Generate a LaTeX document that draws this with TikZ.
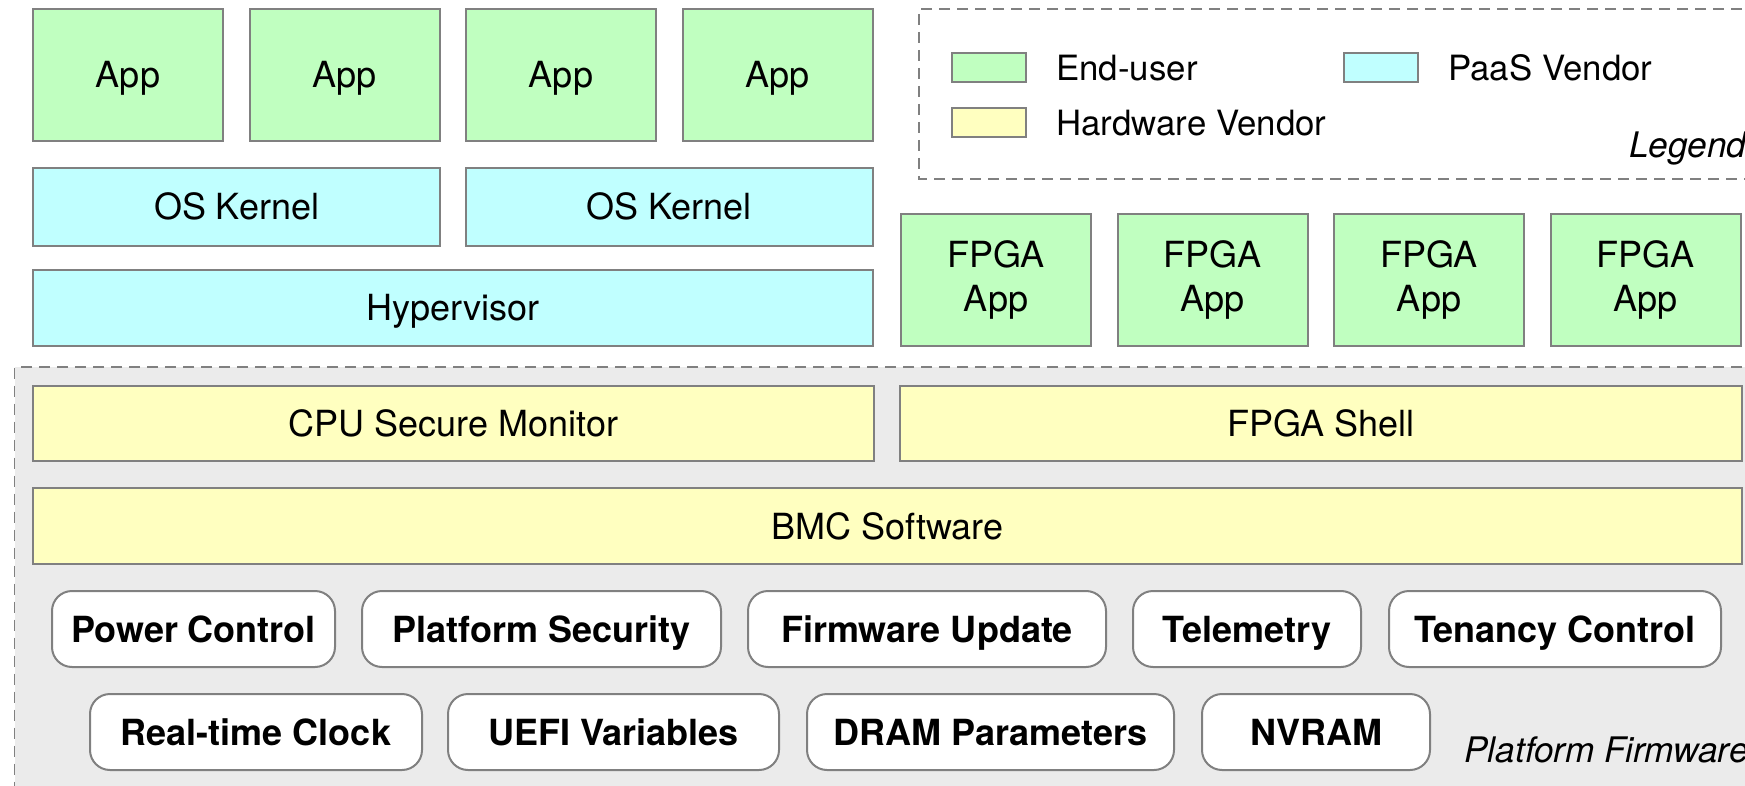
\documentclass[tikz,border=0pt]{standalone}
\usepackage{fontspec}
\setmainfont{TeX Gyre Heros}
\definecolor{enduser}{RGB}{192,255,192}
\definecolor{paas}{RGB}{192,255,255}
\definecolor{hwv}{RGB}{255,255,192}
\definecolor{edge}{RGB}{128,128,128}
\definecolor{pfbg}{RGB}{235,235,235}
\tikzset{
  box/.style={draw=edge, line width=1pt, inner sep=0pt, font=\fontsize{18}{21.6}\selectfont, align=center, text height=13pt, text depth=0pt},
  twoline/.style={text height=, text depth=},
  eu/.style={box, fill=enduser},
  pv/.style={box, fill=paas},
  hv/.style={box, fill=hwv},
  pill/.style={box, fill=white, rounded corners=10pt, font=\fontsize{18}{21.6}\selectfont\bfseries},
  dashbox/.style={draw=edge, line width=0.8pt, dash pattern=on 5.5pt off 3.5pt},
  legtext/.style={anchor=west, inner sep=0pt, font=\fontsize{17.4}{21}\selectfont},
  captext/.style={anchor=base west, inner sep=0pt, font=\fontsize{17.6}{21}\selectfont\itshape},
}
% \bx{style}{name}{x1}{y1}{x2}{y2}{text}, coordinates in pixels
\newcommand\bx[7]{\node[#1, minimum width={(#5-#3)*0.5pt}, minimum height={(#6-#4)*0.5pt}] (#2) at ({(#3+#5)/2},{(#4+#6)/2}) {#7};}
\begin{document}
\begin{tikzpicture}[x=0.5pt, y=-0.5pt]
\useasboundingbox (0,0) rectangle (1745,786);
% platform firmware background
\path[fill=pfbg] (14.5,367) rectangle (1760,800);
\draw[dashbox] (1760,367) -- (14.5,367) -- (14.5,800);
% legend box
\draw[dashbox] (1760,9) -- (919,9) -- (919,179) -- (1760,179);
% apps
\bx{eu}{app1}{33}{9}{223}{141}{App}
\bx{eu}{app2}{249.5}{9}{439.5}{141}{App}
\bx{eu}{app3}{466}{9}{656}{141}{App}
\bx{eu}{app4}{682.5}{9}{872.5}{141}{App}
\bx{pv}{os1}{33}{168}{440}{246}{OS Kernel}
\bx{pv}{os2}{466}{168}{872.5}{246}{OS Kernel}
\bx{pv}{hyp}{33}{270}{872.5}{346}{Hypervisor}
% fpga apps
\bx{eu,twoline}{fa1}{901}{214}{1091}{346}{FPGA\\App}
\bx{eu,twoline}{fa2}{1117.5}{214}{1307.5}{346}{FPGA\\App}
\bx{eu,twoline}{fa3}{1334}{214}{1524}{346}{FPGA\\App}
\bx{eu,twoline}{fa4}{1550.5}{214}{1740.5}{346}{FPGA\\App}
% legend
\bx{eu}{sw1}{952}{53}{1026}{82}{}
\bx{hv}{sw2}{952}{108}{1026}{137}{}
\bx{pv}{sw3}{1344}{53}{1418}{82}{}
\node[legtext] (l1) at (1056,68) {End-user};
\node[legtext] (l2) at (1056,123) {Hardware Vendor};
\node[legtext] (l3) at (1448,68) {PaaS Vendor};
\node[captext] (leg) at (1629,158) {Legend};
% hardware vendor layers
\bx{hv}{csm}{33}{386}{874}{461}{CPU Secure Monitor}
\bx{hv}{fsh}{900}{386}{1742}{461}{FPGA Shell}
\bx{hv}{bmc}{33}{488}{1742}{564}{BMC Software}
% pills row 1
\bx{pill}{p1}{52}{591}{335}{667}{Power Control}
\bx{pill}{p2}{362}{591}{721}{667}{Platform Security}
\bx{pill}{p3}{748}{591}{1106}{667}{Firmware Update}
\bx{pill}{p4}{1133}{591}{1361}{667}{Telemetry}
\bx{pill}{p5}{1389}{591}{1721}{667}{Tenancy Control}
% pills row 2
\bx{pill}{q1}{90}{694}{422}{770}{Real-time Clock}
\bx{pill}{q2}{448}{694}{779}{770}{UEFI Variables}
\bx{pill}{q3}{807}{694}{1174}{770}{DRAM Parameters}
\bx{pill}{q4}{1202}{694}{1430}{770}{NVRAM}
\node[captext] (pf) at (1464,762) {Platform Firmware};
\end{tikzpicture}
\end{document}
